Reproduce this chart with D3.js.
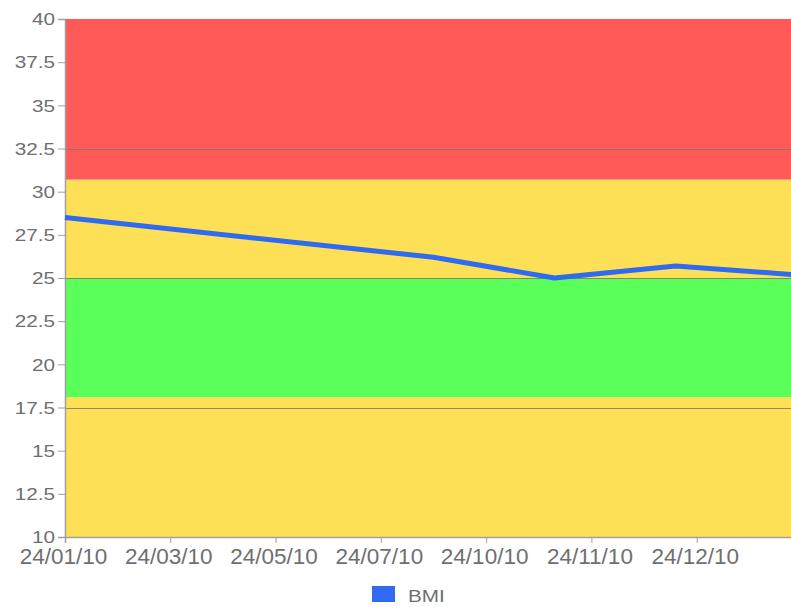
<!DOCTYPE html>
<html>
<head>
<meta charset="utf-8">
<script src="https://cdn.jsdelivr.net/npm/d3@7"></script>
<style>
  html, body { margin: 0; padding: 0; background: #fff; overflow: hidden; }
  svg { display: block; }
  text { font-family: "Liberation Sans", Arial, Helvetica, sans-serif; fill: #6f6f6f; }
</style>
</head>
<body>
<svg id="chart" width="791" height="607"></svg>
<script>
// ---- data ----
const xTickLabels = ["24/01/10", "24/03/10", "24/05/10", "24/07/10", "24/10/10", "24/11/10", "24/12/10"];
const yTicks = [10, 12.5, 15, 17.5, 20, 22.5, 25, 27.5, 30, 32.5, 35, 37.5, 40];
const gridValues = [17.5, 25, 32.5];
// BMI readings: position along the category axis, and value
const bmiPos = [0, 3.5, 4.65, 5.8, 6.9];
const bmiValues = [28.5, 26.2, 25.0, 25.7, 25.2];
// background zones
const zoneFrom = [10, 18.1, 25, 30.7];
const zoneTo = [18.1, 25, 30.7, 40];
const zoneColors = ["#fee057", "#5aff5a", "#fee057", "#ff5a57"];
const seriesName = "BMI";

// ---- layout ----
const svg = d3.select("#chart");
const mLeft = 65, mTop = 19, mBottom = 537, mRight = 802;
const x = d3.scaleLinear().domain([0, 7]).range([mLeft, mRight]);
const y = d3.scaleLinear().domain([10, 40]).range([mBottom, mTop]);

// zones
svg.append("g").selectAll("rect").data(zoneFrom).join("rect")
  .attr("x", mLeft).attr("width", mRight - mLeft)
  .attr("y", (d, i) => y(zoneTo[i]))
  .attr("height", (d, i) => y(d) - y(zoneTo[i]))
  .attr("fill", (d, i) => zoneColors[i]);

// grid lines
svg.append("g").selectAll("line").data(gridValues).join("line")
  .attr("x1", mLeft).attr("x2", mRight)
  .attr("y1", d => Math.round(y(d)) + 0.5).attr("y2", d => Math.round(y(d)) + 0.5)
  .attr("stroke", "#7a7a6a").attr("stroke-opacity", 0.85).attr("stroke-width", 1.2);

// y axis
const yAxis = svg.append("g").attr("transform", `translate(${mLeft},0)`)
  .call(d3.axisLeft(y).tickValues(yTicks).tickSize(7).tickPadding(3).tickFormat(d => String(d)));
yAxis.select(".domain").attr("stroke", "#a0a0a0").attr("stroke-width", 1.5);
yAxis.selectAll(".tick line").attr("stroke", "#a0a0a0");
yAxis.selectAll(".tick text")
  .attr("font-size", 17).attr("fill", "#6f6f6f")
  .attr("x", null).attr("dy", null)
  .attr("dominant-baseline", "central")
  .attr("transform", "translate(-10,0) scale(1.22,1)");

// x axis
const xAxis = svg.append("g").attr("transform", `translate(0,${mBottom})`)
  .call(d3.axisBottom(x).tickValues(d3.range(xTickLabels.length)).tickSize(6).tickPadding(4)
    .tickFormat(i => xTickLabels[i]));
xAxis.select(".domain").attr("stroke", "#a0a0a0").attr("stroke-width", 1.5);
xAxis.selectAll(".tick line").attr("stroke", "#a0a0a0");
xAxis.selectAll(".tick text")
  .attr("font-size", 22.5).attr("fill", "#6f6f6f")
  .attr("dy", null).attr("y", 26.5)
  .attr("transform", "translate(-2,0)");

// line
const pts = bmiPos.map((p, i) => [p, bmiValues[i]]);
svg.append("path")
  .datum(pts)
  .attr("fill", "none")
  .attr("stroke", "#2f6af0")
  .attr("stroke-width", 5)
  .attr("stroke-linejoin", "round")
  .attr("d", d3.line().x(d => x(d[0])).y(d => y(d[1])));

// legend
const lg = svg.append("g");
lg.append("rect").attr("x", 372).attr("y", 586).attr("width", 23).attr("height", 16).attr("fill", "#2f6af0");
lg.append("text").attr("x", 0).attr("y", 0)
  .attr("transform", "translate(408,602) scale(1.22,1)")
  .attr("font-size", 17).attr("fill", "#6f6f6f").text(seriesName);
</script>
</body>
</html>
